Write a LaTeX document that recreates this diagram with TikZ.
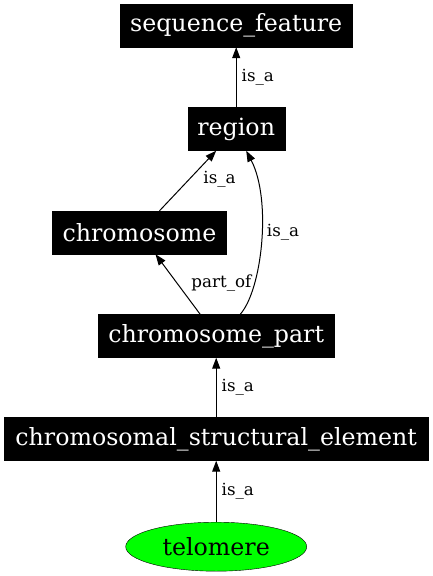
\documentclass[tikz,border=0pt]{standalone}
\usepackage{fontspec}
\setmainfont{DejaVu Serif}
\usetikzlibrary{arrows.meta,shapes.geometric}
\begin{document}
\begin{tikzpicture}[x=1pt,y=-1pt,
  termbox/.style={fill=black,draw=black,text=white,inner sep=0pt,minimum height=43pt,font=\fontsize{23.7}{28}\selectfont},
  leaf/.style={ellipse,fill=green,draw=black,inner sep=0pt,minimum width=181pt,minimum height=49pt,font=\fontsize{23.7}{28}\selectfont},
  rel/.style={draw=black,line width=1pt,-{Triangle[length=11pt,width=8pt]}},
  lbl/.style={font=\fontsize{16.7}{19}\selectfont,inner sep=1pt}]
\useasboundingbox (0,0) rectangle (433,576);
\node[termbox,minimum width=232pt] (sf) at (236.2,25.5) {sequence\_feature};
\node[termbox,minimum width=97pt] (region) at (236.2,129) {region};
\node[termbox,minimum width=174pt] (chrom) at (139.5,232.5) {chromosome};
\node[termbox,minimum width=236pt] (cp) at (216.2,336) {chromosome\_part};
\node[termbox,minimum width=424pt] (cse) at (216.2,439) {chromosomal\_structural\_element};
\node[leaf] (tel) at (216.2,546.7) {telomere};
\draw[rel] (region.north) -- node[lbl,midway,right=4pt] {is\_a} (sf.south);
\draw[rel] ([xshift=20pt]chrom.north) -- node[lbl,pos=0.52,right=13pt] {is\_a} ([xshift=-20pt]region.south);
\draw[rel] ([xshift=24pt]cp.north) .. controls (262,290) and (272,200) .. node[lbl,pos=0.55,right=4pt] {is\_a} ([xshift=10pt]region.south);
\draw[rel] ([xshift=-16pt]cp.north) -- node[lbl,pos=0.52,right=13pt] {part\_of} ([xshift=16pt]chrom.south);
\draw[rel] (cse.north) -- node[lbl,midway,right=4pt] {is\_a} (cp.south);
\draw[rel] (tel.north) -- node[lbl,midway,right=4pt] {is\_a} (cse.south);
\end{tikzpicture}
\end{document}
